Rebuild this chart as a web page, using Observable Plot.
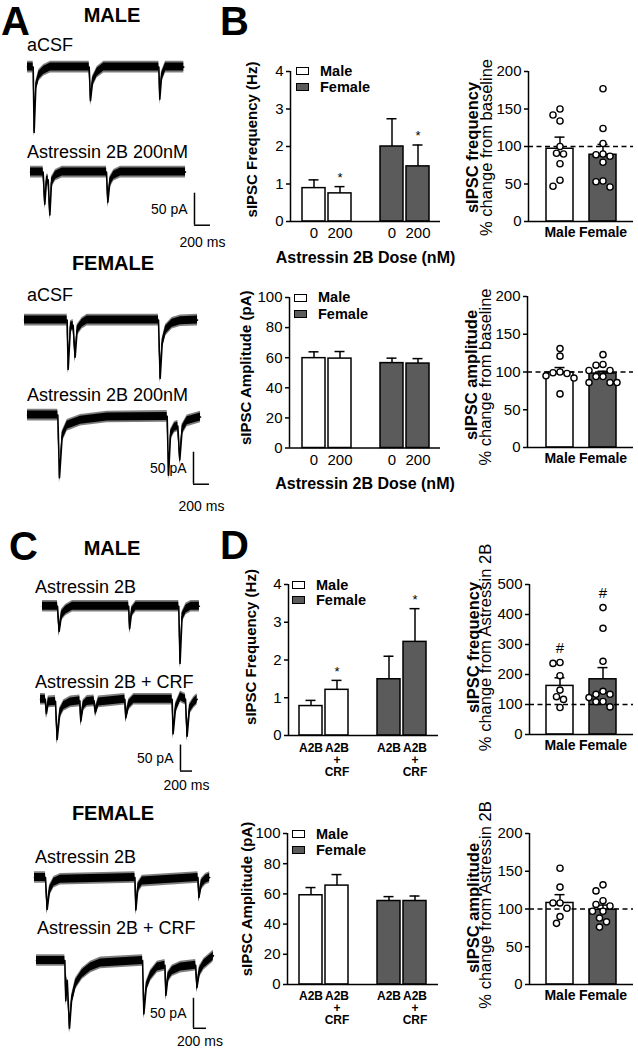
<!DOCTYPE html>
<html><head><meta charset="utf-8">
<script src="https://cdn.jsdelivr.net/npm/d3@7"></script>
<script src="https://cdn.jsdelivr.net/npm/@observablehq/plot@0.6"></script>
<style>
html,body{margin:0;padding:0;background:#fff;}
#fig{position:relative;width:638px;height:1050px;overflow:hidden;font-family:"Liberation Sans",Arial,Helvetica,sans-serif;color:#000;background:#fff;}
.abs{position:absolute;}
.abs svg{max-width:none;overflow:visible;display:block;}
.lbl{position:absolute;white-space:nowrap;line-height:1;}
.sw{position:absolute;box-sizing:border-box;border:1.5px solid #000;}
</style></head><body><div id="fig"></div>
<script>
// ================= DATA =================
const freqTicks = [0, 1, 2, 3, 4];
const ampTicks = [0, 20, 40, 60, 80, 100];
const pctTicks = [0, 50, 100, 150, 200];
const pctTicksD = [0, 100, 200, 300, 400, 500];

const sexes = ["Male", "Male", "Female", "Female"];
const pctSexes = ["Male", "Female"];
const doseTicks = ["0", "200", "0", "200"];
const crfTicks = ["A2B", "A2B\n+\nCRF", "A2B", "A2B\n+\nCRF"];

// Panel B – sIPSC frequency (Hz) / amplitude (pA): mean and SEM
const bFreqMean = [0.89, 0.75, 2.00, 1.47];
const bFreqSem  = [0.22, 0.18, 0.74, 0.57];
const bFreqStar = [false, true, false, true];
const bAmpMean  = [59.7, 59.4, 56.4, 56.1];
const bAmpSem   = [4.2, 4.7, 3.3, 3.3];

// Panel B – % change from baseline
const bFreqPctMean = [97, 89];
const bFreqPctSem  = [15.5, 13.8];
const bFreqPctMale   = [150, 142, 134, 100, 91, 90, 77, 55, 47];
const bFreqPctFemale = [177, 124, 104, 90, 89, 87, 79, 54, 53, 46];
const bAmpPctMean = [99.3, 98];
const bAmpPctSem  = [6.6, 3];
const bAmpPctMale   = [131, 121, 100, 99, 98, 95, 92, 71];
const bAmpPctFemale = [123, 110, 109, 102, 102, 94, 94, 86, 86, 86];

// Panel D – A2B vs A2B + CRF
const dFreqMean = [0.78, 1.21, 1.49, 2.48];
const dFreqSem  = [0.15, 0.25, 0.61, 0.88];
const dFreqStar = [false, true, false, true];
const dAmpMean  = [59.1, 65.5, 55.3, 55.3];
const dAmpSem   = [5.1, 7.3, 2.9, 3.3];
const dFreqPctMean = [162, 184];
const dFreqPctSem  = [27, 39];
const dFreqPctHash = [true, true];
const dFreqPctMale   = [240, 237, 196, 148, 126, 117, 90];
const dFreqPctFemale = [423, 354, 244, 144, 134, 134, 123, 110, 109, 92];
const dAmpPctMean = [108, 99];
const dAmpPctSem  = [11, 6.2];
const dAmpPctMale   = [154, 129, 108, 108, 101, 90, 81];
const dAmpPctFemale = [132, 124, 111, 106, 104, 97, 97, 88, 83, 76];

// Example traces: [time (ms), current (pA)]
const aMaleCtrl = [[0,0],[71,0],[83,-102],[104,-31],[142,-13],[204,-5],[288,0],[771,0],[788,-52],[813,-23],[871,-8],[954,0],[1642,0],[1654,-50],[1675,-16],[1725,0],[1954,0]];
const aMaleDrug = [[0,0],[158,0],[179,-50],[200,-13],[221,-12],[242,-67],[263,-16],[313,-5],[396,0],[950,0],[967,-47],[992,-16],[1042,-5],[1125,0],[1938,0]];
const aFemCtrl  = [[0,0],[533,0],[546,-77],[575,-10],[608,-8],[633,-58],[658,-16],[721,-5],[783,0],[1675,0],[1696,-91],[1721,-37],[1763,-16],[1846,-5],[1950,-1],[2163,0]];
const aFemDrug  = [[0,0],[379,0],[400,-98],[433,-34],[496,-16],[663,-8],[996,-3],[1746,-2],[1763,-94],[1788,-31],[1838,-19],[1879,-17],[1904,-70],[1933,-23],[1996,-9],[2163,-3]];
const cMaleCtrl = [[0,0],[250,0],[278,-48],[317,-17],[389,-7],[500,0],[1436,0],[1453,-43],[1486,-11],[1558,0],[2271,0],[2293,-110],[2326,-21],[2393,-5],[2477,0],[2615,0]];
const cMaleCrf  = [[0,0],[80,0],[100,-27],[130,-5],[250,-4],[278,-77],[322,-27],[389,-12],[500,-5],[656,-3],[672,-42],[711,-12],[778,-4],[892,-3],[917,-24],[967,-5],[1406,0],[1422,-35],[1472,-10],[1556,0],[2194,0],[2211,-66],[2250,-18],[2333,5],[2417,0],[2444,-71],[2483,-19],[2556,-6],[2611,0]];
const cFemCtrl  = [[0,0],[169,0],[195,-53],[231,-22],[298,-8],[400,-3],[1545,0],[1560,-54],[1591,-17],[1658,-6],[2515,0],[2530,-33],[2567,-11],[2633,-3],[2695,0]];
const cFemCrf   = [[0,0],[436,0],[451,-67],[473,-33],[508,-113],[539,-67],[601,-39],[704,-22],[832,-11],[986,-4],[1632,0],[1652,-89],[1689,-44],[1756,-25],[1859,-11],[1976,-8],[1991,-58],[2022,-28],[2090,-17],[2218,-11],[2449,-8],[2469,-45],[2506,-19],[2577,-6],[2706,6],[2721,8]];
const scaleBarMs = 200, scaleBarPA = 50;

// ================= LAYOUT =================
const FONT = '"Liberation Sans", Arial, Helvetica, sans-serif';
const FEMALE_FILL = "#5b5b5b";
const fig = document.getElementById("fig");

function addPlot(svg, left, top, w) {
  const wrap = document.createElement("div");
  wrap.className = "abs";
  wrap.style.left = left + "px";
  wrap.style.top = top + "px";
  wrap.style.width = w + "px";
  wrap.appendChild(svg);
  fig.appendChild(wrap);
}

function txt(s, x, y, {size = 15, weight = "normal", anchor = "start"} = {}) {
  const d = document.createElement("div");
  d.className = "lbl";
  d.textContent = s;
  d.style.fontSize = size + "px";
  d.style.fontWeight = weight;
  d.style.left = x + "px";
  d.style.top = (y - 0.49 * size) + "px";
  if (anchor === "middle") d.style.transform = "translateX(-50%)";
  if (anchor === "end") d.style.transform = "translateX(-100%)";
  fig.appendChild(d);
}

function legend(x, yM, yF) {
  [["Male", yM - 1, "#fff"], ["Female", yF + 1, FEMALE_FILL]].forEach(([s, y, c]) => {
    const sw = document.createElement("div");
    sw.className = "sw";
    sw.style.left = x + "px"; sw.style.top = (y - 4) + "px";
    sw.style.width = "13px"; sw.style.height = "8px";
    sw.style.background = c;
    fig.appendChild(sw);
    txt(s, x + 24, y, {size: 14.5, weight: "bold"});
  });
}

function rowsOf(means, sems, sexArr, labels, slots, flags) {
  return means.map((m, i) => ({slot: slots[i], mean: m, sem: sems[i], sex: sexArr[i], label: labels[i], flag: flags ? flags[i] : false}));
}

function swarm(vals, geo, slot) {
  const k = (geo.y0 - geo.yTop) / geo.yMax;
  const placed = [], D = 7, S = 3.5;
  const order = [0, -1, 1, -2, 2, -3, 3, -4, 4];
  return vals.map(v => {
    const py = v * k;
    let off = 0;
    for (const j of order) {
      const px = j * S;
      if (placed.every(p => Math.hypot(p[0] - px, p[1] - py) >= D)) { off = px; break; }
    }
    placed.push([off, py]);
    return {slot, v, off};
  });
}

function barChart(geo, rows, points, o) {
  const ML = 90, MR = 12, MT = 40, MB = 70;
  const FW = geo.axisEnd - geo.axisX, FH = geo.y0 - geo.yTop;
  const xMin = -(geo.barStart - geo.axisX) / geo.step;
  const xMax = (geo.axisEnd - geo.barStart) / geo.step;
  const bw = geo.barW / geo.step, cap = 5 / geo.step;
  const cx = d => d.slot + bw / 2;
  const top = d => d.mean + d.sem;
  const marks = [
    Plot.rect(rows, {x1: "slot", x2: d => d.slot + bw, y1: 0, y2: "mean", fill: "sex", stroke: "black", strokeWidth: 1.5}),
  ];
  if (o.dashed) marks.push(Plot.ruleY([o.dashed], {strokeWidth: 1.5, strokeDasharray: "5,3.5"}));
  marks.push(
    Plot.ruleX(rows, {x: cx, y1: "mean", y2: top, strokeWidth: 1.5}),
    Plot.ruleY(rows, {y: top, x1: d => cx(d) - cap, x2: d => cx(d) + cap, strokeWidth: 1.5})
  );
  if (points) marks.push(Plot.dot(points, {x: d => d.slot + bw / 2 + d.off / geo.step, y: "v", r: 3.1, fill: "white", stroke: "black", strokeWidth: 1.4}));
  marks.push(
    Plot.ruleY([0], {strokeWidth: 1.5}),
    Plot.ruleX([xMin], {strokeWidth: 1.5}),
    Plot.axisY(geo.ticks, {tickSize: 4, tickPadding: 3, strokeWidth: 1.5, label: null, fontSize: 15}),
    Plot.text(rows, {x: cx, y: () => 0, text: "label", lineAnchor: "top", dy: o.tickDy, fontWeight: o.tickWeight, fontSize: o.tickSize, lineHeight: o.lineHeight || 1})
  );
  if (o.stars) marks.push(Plot.text(rows.filter(d => d.flag), {x: cx, y: top, text: () => "*", dy: -9, fontSize: 13}));
  if (o.hash) marks.push(Plot.text(rows.filter(d => d.flag), {x: cx, y: d => Math.max(top(d), d.maxPt), text: () => "#", dy: -14, fontSize: 15}));
  marks.push(Plot.text([o.yTitle], {text: d => d, frameAnchor: "left", rotate: -90, dx: o.yDx, dy: o.yDy, textAnchor: "middle", lineAnchor: "middle", fontWeight: "bold", fontSize: o.ySize}));
  if (o.yTitle2) marks.push(Plot.text([o.yTitle2], {text: d => d, frameAnchor: "left", rotate: -90, dx: o.yDx2, dy: o.yDy2, textAnchor: "middle", lineAnchor: "middle", fontSize: o.ySize}));
  if (o.xTitle) marks.push(Plot.text([o.xTitle], {text: d => d, frameAnchor: "bottom", dy: o.xTitleDy, textAnchor: "middle", lineAnchor: "middle", fontWeight: "bold", fontSize: 16}));
  const W = ML + FW + MR;
  const svg = Plot.plot({
    width: W, height: MT + FH + MB,
    marginLeft: ML, marginRight: MR, marginTop: MT, marginBottom: MB,
    x: {domain: [xMin, xMax], axis: null},
    y: {domain: [0, geo.yMax]},
    color: {domain: ["Male", "Female"], range: ["#ffffff", FEMALE_FILL]},
    style: {fontFamily: FONT, fontSize: "15px", color: "black", background: "transparent", overflow: "visible"},
    marks
  });
  addPlot(svg, geo.axisX - ML, geo.yTop - MT, W);
}

function trace(pts, sc, left, baseY, bar) {
  const T = d3.max(pts, d => d[0]);
  const vTop = 40, vBot = 240;
  const noise = 4 / sc.pxPerPA, fringe = 5.8 / sc.pxPerPA;
  const H = (vTop + vBot) * sc.pxPerPA;
  const W = T * sc.pxPerMs + 60;
  const marks = [
    Plot.areaY(pts, {x: d => d[0], y1: d => d[1] - fringe, y2: d => d[1] + fringe, fill: "black", fillOpacity: 0.5}),
    Plot.areaY(pts, {x: d => d[0], y1: d => d[1] - noise, y2: d => d[1] + noise, fill: "black"}),
    Plot.line(pts, {x: d => d[0], y: d => d[1], stroke: "black", strokeWidth: 1.6})
  ];
  if (bar) {
    marks.push(
      Plot.ruleX([bar.t], {y1: bar.v, y2: bar.v + scaleBarPA, strokeWidth: 1.5}),
      Plot.ruleY([bar.v], {x1: bar.t, x2: bar.t + scaleBarMs, strokeWidth: 1.5}),
      Plot.text([`${scaleBarPA} pA`], {text: d => d, x: bar.t, y: bar.v + scaleBarPA / 2, textAnchor: "end", dx: -7, fontSize: 14}),
      Plot.text([`${scaleBarMs} ms`], {text: d => d, x: bar.t + scaleBarMs / 2, y: bar.v, dy: bar.labDy, textAnchor: "middle", fontSize: 14})
    );
  }
  const svg = Plot.plot({
    width: W, height: H, margin: 0,
    x: {domain: [0, T], range: [0, T * sc.pxPerMs], axis: null},
    y: {domain: [-vBot, vTop], range: [H, 0], axis: null},
    style: {fontFamily: FONT, fontSize: "14px", color: "black", background: "transparent", overflow: "visible"},
    marks
  });
  addPlot(svg, left, baseY - vTop * sc.pxPerPA, W);
}

// ---------- geometry of each chart ----------
const G = {
  bFreq:    {axisX: 290, axisEnd: 440, y0: 221, yTop: 71,    yMax: 4,   ticks: freqTicks, barStart: 302, step: 26, barW: 23},
  bAmp:     {axisX: 289, axisEnd: 440, y0: 447, yTop: 296.5, yMax: 100, ticks: ampTicks,  barStart: 302, step: 26, barW: 23},
  dFreq:    {axisX: 288, axisEnd: 438, y0: 735, yTop: 584,   yMax: 4,   ticks: freqTicks, barStart: 299, step: 26, barW: 23},
  dAmp:     {axisX: 287, axisEnd: 438, y0: 984, yTop: 833,   yMax: 100, ticks: ampTicks,  barStart: 299, step: 26, barW: 23},
  bFreqPct: {axisX: 528, axisEnd: 633, y0: 221, yTop: 71,    yMax: 200, ticks: pctTicks,  barStart: 546, step: 43, barW: 27},
  bAmpPct:  {axisX: 527, axisEnd: 633, y0: 447, yTop: 296,   yMax: 200, ticks: pctTicks,  barStart: 546, step: 43, barW: 27},
  dFreqPct: {axisX: 529, axisEnd: 633, y0: 734, yTop: 584,   yMax: 500, ticks: pctTicksD, barStart: 546, step: 43, barW: 27},
  dAmpPct:  {axisX: 529, axisEnd: 633, y0: 984, yTop: 833,   yMax: 200, ticks: pctTicks,  barStart: 546, step: 43, barW: 27}
};
const slots4 = [0, 1, 3, 4], slots2 = [0, 1];

// ---------- Panel B ----------
barChart(G.bFreq, rowsOf(bFreqMean, bFreqSem, sexes, doseTicks, slots4, bFreqStar), null,
  {tickDy: 6, tickSize: 15, tickWeight: "normal", stars: true, yTitle: "sIPSC Frequency (Hz)", yDx: -38, yDy: -7, ySize: 15, xTitle: "Astressin 2B Dose (nM)", xTitleDy: 36});
barChart(G.bAmp, rowsOf(bAmpMean, bAmpSem, sexes, doseTicks, slots4), null,
  {tickDy: 6, tickSize: 15, tickWeight: "normal", yTitle: "sIPSC Amplitude (pA)", yDx: -43, yDy: -5, ySize: 15, xTitle: "Astressin 2B Dose (nM)", xTitleDy: 36});
barChart(G.bFreqPct, rowsOf(bFreqPctMean, bFreqPctSem, pctSexes, pctSexes, slots2),
  [...swarm(bFreqPctMale, G.bFreqPct, 0), ...swarm(bFreqPctFemale, G.bFreqPct, 1)],
  {tickDy: 6, tickSize: 14, tickWeight: "bold", dashed: 100, yTitle: "sIPSC frequency", yDx: -56, yDy: 1, yTitle2: "% change from baseline", yDx2: -42, yDy2: 1, ySize: 16.5});
barChart(G.bAmpPct, rowsOf(bAmpPctMean, bAmpPctSem, pctSexes, pctSexes, slots2),
  [...swarm(bAmpPctMale, G.bAmpPct, 0), ...swarm(bAmpPctFemale, G.bAmpPct, 1)],
  {tickDy: 6, tickSize: 14, tickWeight: "bold", dashed: 100, yTitle: "sIPSC amplitude", yDx: -56, yDy: 3, yTitle2: "% change from baseline", yDx2: -42, yDy2: 5, ySize: 16.5});

// ---------- Panel D ----------
barChart(G.dFreq, rowsOf(dFreqMean, dFreqSem, sexes, crfTicks, slots4, dFreqStar), null,
  {tickDy: 8, tickSize: 12, tickWeight: "bold", lineHeight: 1, stars: true, yTitle: "sIPSC Frequency (Hz)", yDx: -37, yDy: -13, ySize: 15});
barChart(G.dAmp, rowsOf(dAmpMean, dAmpSem, sexes, crfTicks, slots4), null,
  {tickDy: 7, tickSize: 12, tickWeight: "bold", lineHeight: 1, yTitle: "sIPSC Amplitude (pA)", yDx: -40, yDy: -10, ySize: 15});
const dFreqPctRows = rowsOf(dFreqPctMean, dFreqPctSem, pctSexes, pctSexes, slots2, dFreqPctHash);
dFreqPctRows[0].maxPt = d3.max(dFreqPctMale);
dFreqPctRows[1].maxPt = d3.max(dFreqPctFemale);
barChart(G.dFreqPct, dFreqPctRows,
  [...swarm(dFreqPctMale, G.dFreqPct, 0), ...swarm(dFreqPctFemale, G.dFreqPct, 1)],
  {tickDy: 6, tickSize: 14, tickWeight: "bold", dashed: 100, hash: true, yTitle: "sIPSC frequency", yDx: -56, yDy: -12, yTitle2: "% change from Astressin 2B", yDx2: -44, yDy2: -12, ySize: 16.5});
barChart(G.dAmpPct, rowsOf(dAmpPctMean, dAmpPctSem, pctSexes, pctSexes, slots2),
  [...swarm(dAmpPctMale, G.dAmpPct, 0), ...swarm(dAmpPctFemale, G.dAmpPct, 1)],
  {tickDy: 6, tickSize: 14, tickWeight: "bold", dashed: 100, yTitle: "sIPSC amplitude", yDx: -56, yDy: -1, yTitle2: "% change from Astressin 2B", yDx2: -44, yDy2: -4, ySize: 16.5});

legend(296, 72, 86);
legend(294, 298.5, 313);
legend(292, 586, 599);
legend(292, 835, 849);

// ---------- Panels A and C: traces ----------
const scA = {pxPerMs: 0.08, pxPerPA: 0.64};
const scCm = {pxPerMs: 0.06, pxPerPA: 0.52};
const scCf = {pxPerMs: 0.065, pxPerPA: 0.6};
trace(aMaleCtrl, scA, 27, 67);
trace(aMaleDrug, scA, 30, 172, {t: 2050, v: -83, labDy: 17});
trace(aFemCtrl, scA, 24, 320);
trace(aFemDrug, scA, 27, 415, {t: 2075, v: -108, labDy: 22});
trace(cMaleCtrl, scCm, 41.7, 606);
trace(cMaleCrf, scCm, 40, 699, {t: 2333, v: -138, labDy: 14});
trace(cFemCtrl, scCf, 34, 877);
trace(cFemCrf, scCf, 36, 960, {t: 2415, v: -113, labDy: 13});

// ---------- text labels ----------
txt("A", 1, 21, {size: 40, weight: "bold"});
txt("B", 220, 21, {size: 40, weight: "bold"});
txt("C", 9, 546, {size: 40, weight: "bold"});
txt("D", 220, 545, {size: 40, weight: "bold"});
txt("MALE", 112, 15, {size: 20, weight: "bold", anchor: "middle"});
txt("aCSF", 27, 45, {size: 18});
txt("Astressin 2B 200nM", 27, 152, {size: 18});
txt("FEMALE", 113, 263, {size: 20, weight: "bold", anchor: "middle"});
txt("aCSF", 27, 295, {size: 18});
txt("Astressin 2B 200nM", 27, 395, {size: 18});
txt("MALE", 112, 548, {size: 20, weight: "bold", anchor: "middle"});
txt("Astressin 2B", 35, 587, {size: 18});
txt("Astressin 2B + CRF", 35, 682, {size: 18});
txt("FEMALE", 113, 813, {size: 20, weight: "bold", anchor: "middle"});
txt("Astressin 2B", 35, 857, {size: 18});
txt("Astressin 2B + CRF", 37, 928, {size: 18});
</script></body></html>
